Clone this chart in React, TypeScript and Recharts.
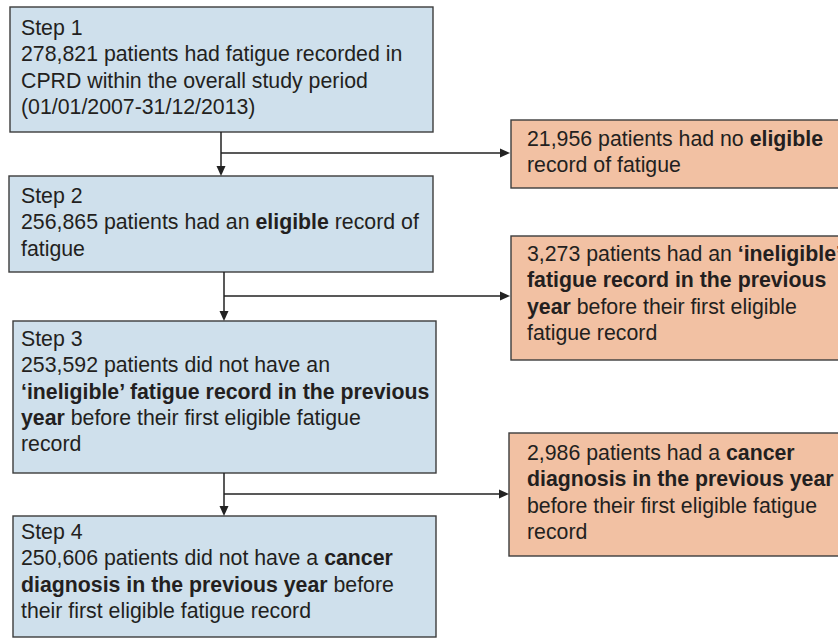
import React from 'react';
import { ComposedChart, XAxis, YAxis, ReferenceArea, ReferenceLine } from 'recharts';

// ---- data ----
const stepTitles = ['Step 1', 'Step 2', 'Step 3', 'Step 4'];
const stepCounts = [278821, 256865, 253592, 250606];
const excludedCounts = [21956, 3273, 2986];

type Seg = { t: string; b?: boolean };
const fmt = (n: number) => n.toLocaleString('en-US');

const stepLines: Seg[][][] = [
  [
    [{ t: stepTitles[0] }],
    [{ t: `${fmt(stepCounts[0])} patients had fatigue recorded in` }],
    [{ t: 'CPRD within the overall study period' }],
    [{ t: '(01/01/2007-31/12/2013)' }],
  ],
  [
    [{ t: stepTitles[1] }],
    [{ t: `${fmt(stepCounts[1])} patients had an ` }, { t: 'eligible', b: true }, { t: ' record of' }],
    [{ t: 'fatigue' }],
  ],
  [
    [{ t: stepTitles[2] }],
    [{ t: `${fmt(stepCounts[2])} patients did not have an` }],
    [{ t: '\u2018ineligible\u2019 fatigue record in the previous', b: true }],
    [{ t: 'year', b: true }, { t: ' before their first eligible fatigue' }],
    [{ t: 'record' }],
  ],
  [
    [{ t: stepTitles[3] }],
    [{ t: `${fmt(stepCounts[3])} patients did not have a ` }, { t: 'cancer', b: true }],
    [{ t: 'diagnosis in the previous year', b: true }, { t: ' before' }],
    [{ t: 'their first eligible fatigue record' }],
  ],
];

const excludedLines: Seg[][][] = [
  [
    [{ t: `${fmt(excludedCounts[0])} patients had no ` }, { t: 'eligible', b: true }],
    [{ t: 'record of fatigue' }],
  ],
  [
    [{ t: `${fmt(excludedCounts[1])} patients had an ` }, { t: '\u2018ineligible\u2019', b: true }],
    [{ t: 'fatigue record in the previous', b: true }],
    [{ t: 'year', b: true }, { t: ' before their first eligible' }],
    [{ t: 'fatigue record' }],
  ],
  [
    [{ t: `${fmt(excludedCounts[2])} patients had a ` }, { t: 'cancer', b: true }],
    [{ t: 'diagnosis in the previous year', b: true }],
    [{ t: 'before their first eligible fatigue' }],
    [{ t: 'record' }],
  ],
];

// ---- layout (axis units) ----
const stepBoxes = [
  { x1: 10, x2: 433, y1: 7, y2: 132, tx: 21, ty: 35 },
  { x1: 9, x2: 433, y1: 176, y2: 272, tx: 21, ty: 203 },
  { x1: 13, x2: 436, y1: 321, y2: 473, tx: 21, ty: 346 },
  { x1: 13, x2: 436, y1: 516, y2: 637, tx: 21, ty: 539 },
];
const excludedBoxes = [
  { x1: 511, x2: 848, y1: 120, y2: 188, tx: 527, ty: 146 },
  { x1: 511, x2: 848, y1: 236, y2: 360, tx: 527, ty: 261 },
  { x1: 509, x2: 848, y1: 433, y2: 556, tx: 527, ty: 460 },
];
const connectors = [
  { x: 221, yTop: 132, yBottom: 176, yBranch: 153, xEnd: 510 },
  { x: 224, yTop: 272, yBottom: 321, yBranch: 296, xEnd: 510 },
  { x: 224, yTop: 473, yBottom: 516, yBranch: 494, xEnd: 509 },
];

const W = 838;
const H = 640;
const LINE_H = 26.3;
const FONT = '"Liberation Sans", Arial, Helvetica, sans-serif';
const BLUE = '#cfe0ec';
const ORANGE = '#f2c1a3';
const BORDER = '#3c3c3c';
const TEXT = '#231f20';

const makeBox = (fill: string, lines: Seg[][], tx: number, ty: number, x1: number, y1: number) =>
  (props: any) => {
    const { x, y, width, height } = props;
    const dx = x - x1;
    const dy = y - y1;
    return (
      <g>
        <rect x={x} y={y} width={width} height={height} fill={fill} stroke={BORDER} strokeWidth={1.4} />
        {lines.map((line, i) => (
          <text
            key={i}
            x={tx + dx}
            y={ty + dy + i * LINE_H}
            fontFamily={FONT}
            fontSize={21.3}
            fill={TEXT}
            style={{ whiteSpace: 'pre' }}
          >
            {line.map((s, j) => (
              <tspan key={j} fontWeight={s.b ? 'bold' : 'normal'}>
                {s.t}
              </tspan>
            ))}
          </text>
        ))}
      </g>
    );
  };

const arrowLine = (head: boolean) => (props: any) => {
  const { x1, y1, x2, y2 } = props;
  const ang = Math.atan2(y2 - y1, x2 - x1);
  const len = 10;
  const half = 4.5;
  const bx = x2 - len * Math.cos(ang);
  const by = y2 - len * Math.sin(ang);
  const px = -Math.sin(ang) * half;
  const py = Math.cos(ang) * half;
  return (
    <g>
      <line x1={x1} y1={y1} x2={head ? bx : x2} y2={head ? by : y2} stroke="#222" strokeWidth={1.5} />
      {head && (
        <polygon points={`${x2},${y2} ${bx + px},${by + py} ${bx - px},${by - py}`} fill="#222" />
      )}
    </g>
  );
};

export default function App() {
  return (
    <div style={{ position: 'absolute', left: 0, top: 0, width: W, height: H, background: '#fff', overflow: 'hidden' }}>
      <ComposedChart width={W} height={H} margin={{ top: 0, right: 0, bottom: 0, left: 0 }} data={[]}>
        <XAxis type="number" dataKey="x" domain={[0, W]} hide allowDataOverflow />
        <YAxis type="number" dataKey="y" domain={[0, H]} reversed hide allowDataOverflow />
        {connectors.map((c, i) => (
          <ReferenceLine
            key={`v${i}`}
            segment={[{ x: c.x, y: c.yTop }, { x: c.x, y: c.yBottom }]}
            shape={arrowLine(true)}
            ifOverflow="visible"
          />
        ))}
        {connectors.map((c, i) => (
          <ReferenceLine
            key={`h${i}`}
            segment={[{ x: c.x, y: c.yBranch }, { x: c.xEnd, y: c.yBranch }]}
            shape={arrowLine(true)}
            ifOverflow="visible"
          />
        ))}
        {stepBoxes.map((b, i) => (
          <ReferenceArea
            key={`s${i}`}
            x1={b.x1}
            x2={b.x2}
            y1={b.y1}
            y2={b.y2}
            ifOverflow="visible"
            shape={makeBox(BLUE, stepLines[i], b.tx, b.ty, b.x1, b.y1)}
          />
        ))}
        {excludedBoxes.map((b, i) => (
          <ReferenceArea
            key={`e${i}`}
            x1={b.x1}
            x2={b.x2}
            y1={b.y1}
            y2={b.y2}
            ifOverflow="visible"
            shape={makeBox(ORANGE, excludedLines[i], b.tx, b.ty, b.x1, b.y1)}
          />
        ))}
      </ComposedChart>
    </div>
  );
}
